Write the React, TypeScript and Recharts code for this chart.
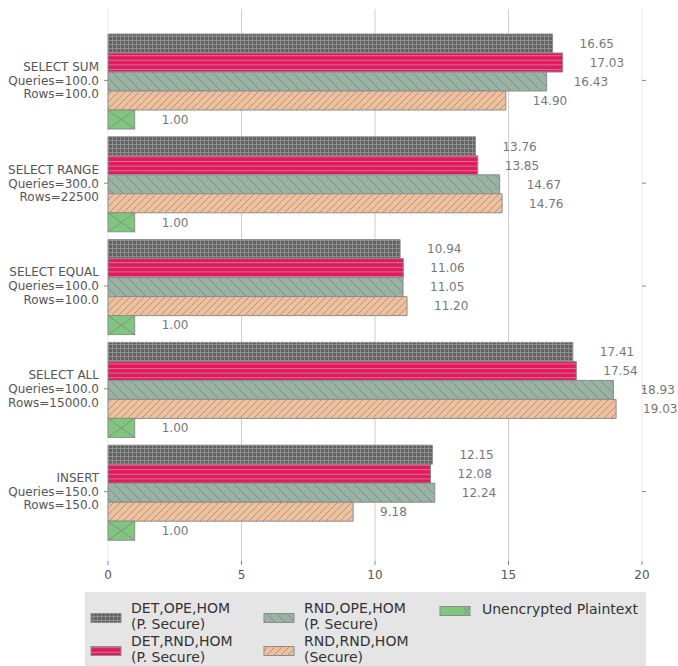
import React from 'react';
import { BarChart, Bar, XAxis, YAxis, CartesianGrid, LabelList, Legend } from 'recharts';

const categories = ['SELECT SUM', 'SELECT RANGE', 'SELECT EQUAL', 'SELECT ALL', 'INSERT'];
const queries = ['Queries=100.0', 'Queries=300.0', 'Queries=100.0', 'Queries=100.0', 'Queries=150.0'];
const rowsLabels = ['Rows=100.0', 'Rows=22500', 'Rows=100.0', 'Rows=15000.0', 'Rows=150.0'];

const detOpeHom = [16.65, 13.76, 10.94, 17.41, 12.15];
const detRndHom = [17.03, 13.85, 11.06, 17.54, 12.08];
const rndOpeHom = [16.43, 14.67, 11.05, 18.93, 12.24];
const rndRndHom = [14.9, 14.76, 11.2, 19.03, 9.18];
const plaintext = [1.0, 1.0, 1.0, 1.0, 1.0];

const xTicks = [0, 5, 10, 15, 20];

const seriesKeys = ['detOpe', 'detRnd', 'rndOpe', 'rndRnd', 'plain'];
const seriesNames = [
  'DET,OPE,HOM\n(P. Secure)',
  'DET,RND,HOM\n(P. Secure)',
  'RND,OPE,HOM\n(P. Secure)',
  'RND,RND,HOM\n(Secure)',
  'Unencrypted Plaintext',
];
const seriesFills = ['url(#pDetOpe)', 'url(#pDetRnd)', 'url(#pRndOpe)', 'url(#pRndRnd)', '#7ec87e'];

const data = categories.map((c, i) => ({
  name: c,
  detOpe: detOpeHom[i],
  detRnd: detRndHom[i],
  rndOpe: rndOpeHom[i],
  rndRnd: rndRndHom[i],
  plain: plaintext[i],
}));

const FONT = "'DejaVu Sans', sans-serif";
const EDGE = '#8c8c8c';

const YTick = (props: any) => {
  const { x, y, payload } = props;
  const i = categories.indexOf(payload.value);
  return (
    <text textAnchor="end" fill="#555" fontSize={12} fontFamily={FONT}>
      <tspan x={x} y={y - 14} dy="0.36em">{categories[i]}</tspan>
      <tspan x={x} y={y} dy="0.36em">{queries[i]}</tspan>
      <tspan x={x} y={y + 13.5} dy="0.36em">{rowsLabels[i]}</tspan>
    </text>
  );
};

const EmptyTick = () => <g />;

const ValueLabel = (props: any) => {
  const { x, y, width, height, value } = props;
  return (
    <text
      x={x + width + 27}
      y={y + height / 2}
      dy="0.36em"
      fill="#777"
      fontSize={12}
      fontFamily={FONT}
    >
      {Number(value).toFixed(2)}
    </text>
  );
};

const PlainShape = (props: any) => {
  const { x, y, width, height } = props;
  return (
    <g>
      <rect x={x} y={y} width={width} height={height} fill="#7ec87e" stroke={EDGE} strokeWidth={1} />
      <line x1={x} y1={y} x2={x + width} y2={y + height} stroke={EDGE} strokeWidth={1} />
      <line x1={x} y1={y + height} x2={x + width} y2={y} stroke={EDGE} strokeWidth={1} />
    </g>
  );
};

const GridLine = (props: any) => {
  const { x1, y1, x2, y2 } = props;
  const edge = x1 < 110 || x1 > 640;
  return <line x1={x1} y1={y1} x2={x2} y2={y2} stroke={edge ? '#ebebeb' : '#cfcfcf'} strokeWidth={1} />;
};

const legendPos = [
  { sx: 6, tx: 46, cy: 24, sy: 26 },
  { sx: 6, tx: 46, cy: 57, sy: 59 },
  { sx: 179, tx: 219, cy: 24, sy: 26 },
  { sx: 179, tx: 219, cy: 57, sy: 59 },
  { sx: 355, tx: 397, cy: 17, sy: 19 },
];

const renderLegend = () => {
  return (
    <svg width={561} height={74} style={{ display: 'block' }}>
      {seriesKeys.map((k, i) => {
        const p = legendPos[i];
        const lines = seriesNames[i].split('\n');
        const lh = 16;
        const startY = p.cy - ((lines.length - 1) * lh) / 2;
        return (
          <g key={k}>
            <rect x={p.sx} y={p.sy - 4.5} width={30} height={9} fill={seriesFills[i]} stroke={EDGE} strokeWidth={1} />
            {k === 'plain' && (
              <g>
                <line x1={p.sx + 23} y1={p.sy - 4.5} x2={p.sx + 30} y2={p.sy + 4.5} stroke={EDGE} />
                <line x1={p.sx + 23} y1={p.sy + 4.5} x2={p.sx + 30} y2={p.sy - 4.5} stroke={EDGE} />
              </g>
            )}
            <text fill="#333" fontSize={14} fontFamily={FONT}>
              {lines.map((ln, j) => (
                <tspan key={j} x={p.tx} y={startY + j * lh} dy="0.36em">
                  {ln}
                </tspan>
              ))}
            </text>
          </g>
        );
      })}
    </svg>
  );
};

export default function App() {
  return (
    <div style={{ position: 'absolute', left: 0, top: 0, width: 678, height: 666, background: '#fff' }}>
      <BarChart
        width={678}
        height={666}
        data={data}
        layout="vertical"
        margin={{ top: 9, right: 30, bottom: 75, left: 0 }}
        barCategoryGap={5}
        barGap={0}
        style={{ fontFamily: FONT }}
      >
        <defs>
          <pattern id="pDetOpe" patternUnits="userSpaceOnUse" width={4} height={4}>
            <rect x={0} y={0} width={4} height={4} fill="#616161" />
            <path d="M0 0.5 H4 M0.5 0 V4" stroke="#8e8e8e" strokeWidth={1} />
          </pattern>
          <pattern id="pDetRnd" patternUnits="userSpaceOnUse" width={4} height={4.6}>
            <rect x={0} y={0} width={4} height={4.6} fill="#e2195d" />
            <path d="M0 0.5 H4" stroke="#cf7496" strokeWidth={1} />
          </pattern>
          <pattern id="pRndOpe" patternUnits="userSpaceOnUse" width={10} height={10}>
            <rect x={0} y={0} width={10} height={10} fill="#97b3a4" />
            <path d="M0 0 L10 10 M-1 9 L1 11 M9 -1 L11 1" stroke="#888" strokeWidth={1} />
          </pattern>
          <pattern id="pRndRnd" patternUnits="userSpaceOnUse" width={7} height={7}>
            <rect x={0} y={0} width={7} height={7} fill="#f3bf98" />
            <path d="M0 7 L7 0 M-1 1 L1 -1 M6 8 L8 6" stroke="#999" strokeWidth={1} />
          </pattern>
        </defs>
        <CartesianGrid horizontal={false} vertical={GridLine as any} />
        <XAxis
          type="number"
          domain={[0, 20]}
          ticks={xTicks}
          axisLine={false}
          tickLine={{ stroke: '#888' }}
          tickSize={4}
          tickMargin={5}
          tick={{ fill: '#555', fontSize: 12, fontFamily: FONT }}
          height={30}
        />
        <YAxis
          type="category"
          dataKey="name"
          width={108}
          axisLine={false}
          tickLine={{ stroke: '#888' }}
          tickSize={4}
          tickMargin={5}
          tick={<YTick />}
          padding={{ top: 20, bottom: 18 }}
        />
        <YAxis
          yAxisId="right"
          orientation="right"
          type="category"
          dataKey="name"
          width={6}
          axisLine={false}
          tickLine={{ stroke: '#888' }}
          tickSize={4}
          tick={<EmptyTick />}
          padding={{ top: 20, bottom: 18 }}
        />
        {seriesKeys.map((k, i) => (
          <Bar
            key={k}
            dataKey={k}
            name={seriesNames[i]}
            fill={seriesFills[i]}
            stroke={EDGE}
            strokeWidth={1}
            isAnimationActive={false}
            shape={k === 'plain' ? (PlainShape as any) : undefined}
          >
            <LabelList dataKey={k} content={ValueLabel as any} />
          </Bar>
        ))}
        <Legend
          layout="horizontal"
          verticalAlign="middle"
          align="center"
          width={561}
          height={74}
          content={renderLegend as any}
          wrapperStyle={{ position: 'absolute', left: 85, top: 592, width: 561, height: 74, background: '#e5e5e5' }}
        />
      </BarChart>
    </div>
  );
}
